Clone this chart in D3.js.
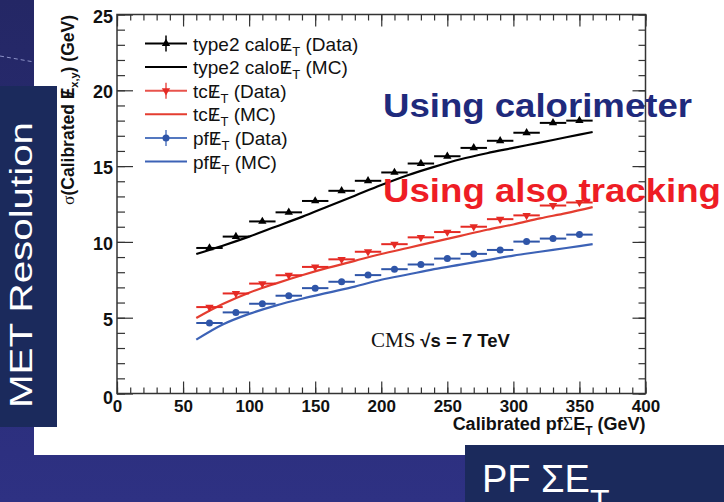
<!DOCTYPE html>
<html>
<head>
<meta charset="utf-8">
<script src="https://cdn.jsdelivr.net/npm/d3@7"></script>
<style>
  body { margin: 0; background: #282b6e; }
  svg { display: block; }
  text { font-family: "Liberation Sans", Arial, Helvetica, sans-serif; }
</style>
</head>
<body>
<div id="chart"></div>
<script>
/* -----------------------
data
------------------------- */

var binCenters = [70, 90, 110, 130, 150, 170, 190, 210, 230, 250, 270, 290, 310, 330, 350];
var binHalf = 10;

var caloData = [9.6, 10.35, 11.35, 11.95, 12.7, 13.37, 14.03, 14.58, 15.17, 15.65, 16.2, 16.67, 17.2, 17.85, 18.0];
var tcData   = [5.7, 6.6, 7.25, 7.8, 8.35, 8.85, 9.35, 9.85, 10.3, 10.65, 11.0, 11.5, 11.75, 12.4, 12.6];
var pfData   = [4.65, 5.35, 5.92, 6.45, 6.95, 7.37, 7.81, 8.2, 8.51, 8.9, 9.21, 9.47, 10.02, 10.22, 10.48];

var mcX    = [60, 80, 100, 120, 140, 160, 180, 200, 220, 240, 260, 280, 300, 320, 340, 360];
var caloMC = [9.2, 9.75, 10.35, 11.0, 11.65, 12.35, 13.05, 13.75, 14.4, 14.95, 15.45, 15.85, 16.2, 16.55, 16.9, 17.25];
var tcMC   = [4.98, 5.9, 6.65, 7.25, 7.8, 8.3, 8.75, 9.2, 9.6, 10.0, 10.4, 10.8, 11.15, 11.55, 11.9, 12.3];
var pfMC   = [3.55, 4.55, 5.25, 5.8, 6.25, 6.65, 7.05, 7.5, 7.85, 8.2, 8.5, 8.8, 9.1, 9.35, 9.6, 9.85];

var xTicks = [0, 50, 100, 150, 200, 250, 300, 350, 400];
var yTicks = [0, 5, 10, 15, 20, 25];

var legendPrefix = ['type2 calo', 'type2 calo', 'tc', 'tc', 'pf', 'pf'];
var legendSuffix = [' (Data)', ' (MC)', ' (Data)', ' (MC)', ' (Data)', ' (MC)'];

/* -----------------------
main variables
------------------------- */

var width = 724,
    height = 502;

var plotL = 117, plotR = 645.5, plotT = 14.5, plotB = 393.5;

var c_bg = '#282b6e',
    c_box = '#1b2a5c',
    c_frame = '#333',
    c_black = '#000',
    c_red = '#e52a24',
    c_redmc = '#e43d30',
    c_blue = '#2f55a8',
    c_bluemc = '#3c62b6',
    c_navytext = '#1f2a7c',
    c_redtext = '#ee1d25';

var svg = d3.select('#chart')
  .append('svg')
  .attr('width', width)
  .attr('height', height);

/* -----------------------
slide background
------------------------- */

var grad = svg.append('defs').append('linearGradient')
  .attr('id', 'bggrad').attr('x1', 0).attr('y1', 0).attr('x2', 0).attr('y2', 1);
grad.append('stop').attr('offset', '0%').attr('stop-color', '#242765');
grad.append('stop').attr('offset', '100%').attr('stop-color', '#2e3183');

svg.append('rect').attr('width', width).attr('height', height).attr('fill', 'url(#bggrad)');

svg.append('line')
  .attr('x1', 0).attr('y1', 56).attr('x2', 34).attr('y2', 62)
  .attr('stroke', '#8d92c8').attr('stroke-width', 1).attr('stroke-dasharray', '4,3');

svg.append('rect')
  .attr('x', 34).attr('y', 0).attr('width', width - 34).attr('height', 455)
  .attr('fill', '#fff');

/* -----------------------
scales and axes
------------------------- */

var x = d3.scaleLinear().domain([0, 400]).range([plotL, plotR]);
var y = d3.scaleLinear().domain([0, 25]).range([plotB, plotT]);

var plot = svg.append('g').attr('id', 'plot');

function tickStyle(g) {
  g.select('.domain').remove();
  g.selectAll('.tick line').attr('stroke', c_frame).attr('stroke-width', 1.2);
}

// bottom
plot.append('g').attr('transform', 'translate(0,' + plotB + ')')
  .call(d3.axisBottom(x).tickValues(d3.range(0, 401, 10)).tickSizeInner(-6).tickSizeOuter(0).tickFormat(''))
  .call(tickStyle);
plot.append('g').attr('transform', 'translate(0,' + plotB + ')')
  .call(d3.axisBottom(x).tickValues(xTicks).tickSizeInner(-12).tickSizeOuter(0).tickPadding(6.5))
  .call(tickStyle)
  .selectAll('text')
  .attr('font-size', 17).attr('font-weight', 'bold').attr('fill', '#111')
  .attr('font-family', '"Liberation Sans", Arial, sans-serif');

// top
plot.append('g').attr('transform', 'translate(0,' + plotT + ')')
  .call(d3.axisTop(x).tickValues(d3.range(0, 401, 10)).tickSizeInner(-6).tickSizeOuter(0).tickFormat(''))
  .call(tickStyle);
plot.append('g').attr('transform', 'translate(0,' + plotT + ')')
  .call(d3.axisTop(x).tickValues(xTicks).tickSizeInner(-12).tickSizeOuter(0).tickFormat(''))
  .call(tickStyle);

// left
plot.append('g').attr('transform', 'translate(' + plotL + ',0)')
  .call(d3.axisLeft(y).tickValues(d3.range(0, 26, 1)).tickSizeInner(-8).tickSizeOuter(0).tickFormat(''))
  .call(tickStyle);
plot.append('g').attr('transform', 'translate(' + plotL + ',0)')
  .call(d3.axisLeft(y).tickValues(yTicks).tickSizeInner(-16).tickSizeOuter(0).tickPadding(4))
  .call(tickStyle)
  .selectAll('text')
  .attr('font-size', 18).attr('font-weight', 'bold').attr('fill', '#111')
  .attr('dy', function (d) { return d === 0 ? '0.55em' : '0.42em'; })
  .attr('font-family', '"Liberation Sans", Arial, sans-serif');

// right
plot.append('g').attr('transform', 'translate(' + plotR + ',0)')
  .call(d3.axisRight(y).tickValues(d3.range(0, 26, 1)).tickSizeInner(-7).tickSizeOuter(0).tickFormat(''))
  .call(tickStyle);
plot.append('g').attr('transform', 'translate(' + plotR + ',0)')
  .call(d3.axisRight(y).tickValues(yTicks).tickSizeInner(-13).tickSizeOuter(0).tickFormat(''))
  .call(tickStyle);

// frame
plot.append('rect')
  .attr('x', plotL).attr('y', plotT)
  .attr('width', plotR - plotL).attr('height', plotB - plotT)
  .attr('fill', 'none').attr('stroke', c_frame).attr('stroke-width', 1.5);

// axis titles
var xt = plot.append('text')
  .attr('x', plotR).attr('y', 430)
  .attr('text-anchor', 'end')
  .attr('font-size', 18).attr('font-weight', 'bold').attr('fill', '#111');
xt.append('tspan').text('Calibrated pf');
xt.append('tspan').attr('font-family', '"Liberation Serif", serif').attr('font-weight', 'normal').text('\u03A3');
xt.append('tspan').text('E');
xt.append('tspan').attr('font-size', 12).attr('dy', 5).text('T');
xt.append('tspan').attr('dy', -5).text(' (GeV)');

var yt = plot.append('text')
  .attr('transform', 'translate(74,15) rotate(-90)')
  .attr('text-anchor', 'end')
  .attr('font-size', 17.5).attr('font-weight', 'bold').attr('fill', '#111');
yt.append('tspan').attr('font-family', '"Liberation Serif", serif').attr('font-weight', 'normal').text('\u03C3');
yt.append('tspan').text('(Calibrated E');
yt.append('tspan').attr('dx', -8).text('/');
yt.append('tspan').attr('dx', 3).attr('font-size', 11).attr('dy', 4).text('x,y');
yt.append('tspan').attr('dy', -4).text(') (GeV)');

/* -----------------------
curves and points
------------------------- */

var line = d3.line()
  .x(function (d) { return x(d[0]); })
  .y(function (d) { return y(d[1]); })
  .curve(d3.curveMonotoneX);

var mcSeries = [
  { values: caloMC, color: c_black },
  { values: tcMC, color: c_redmc },
  { values: pfMC, color: c_bluemc }
];

mcSeries.forEach(function (s) {
  plot.append('path')
    .datum(d3.zip(mcX, s.values))
    .attr('d', line)
    .attr('fill', 'none')
    .attr('stroke', s.color)
    .attr('stroke-width', 2.2);
});

var triUp = d3.symbol().type(d3.symbolTriangle).size(30);

var dataSeries = [
  { values: caloData, color: c_black, marker: 'up' },
  { values: tcData, color: c_red, marker: 'down' },
  { values: pfData, color: c_blue, marker: 'circle' }
];

function drawMarker(g, kind, color) {
  if (kind === 'circle') {
    g.append('circle').attr('r', 3.5).attr('fill', color);
  } else {
    g.append('path').attr('d', triUp())
      .attr('transform', kind === 'down' ? 'rotate(180)' : null)
      .attr('fill', color);
  }
}

dataSeries.forEach(function (s) {
  var pts = plot.append('g').selectAll('g')
    .data(d3.zip(binCenters, s.values))
    .enter().append('g')
    .attr('transform', function (d) { return 'translate(' + x(d[0]) + ',' + y(d[1]) + ')'; });

  pts.append('line')
    .attr('x1', function (d) { return x(d[0] - binHalf) - x(d[0]); })
    .attr('x2', function (d) { return x(d[0] + binHalf) - x(d[0]); })
    .attr('stroke', s.color).attr('stroke-width', 2);

  pts.each(function () { drawMarker(d3.select(this), s.marker, s.color); });
});

/* -----------------------
legend
------------------------- */

var legendColor = [c_black, c_black, '#e8534c', c_redmc, '#5478c0', c_bluemc];
var legendMarker = ['up', null, 'down', null, 'circle', null];
var legendY = d3.scaleLinear().domain([0, 5]).range([43.5, 161.5]);
var fsLeg = 19;

var legend = plot.append('g').attr('class', 'legend');

legendPrefix.forEach(function (p, i) {
  var row = legend.append('g').attr('transform', 'translate(0,' + legendY(i) + ')');
  row.append('line').attr('x1', 145).attr('x2', 187)
    .attr('stroke', legendColor[i]).attr('stroke-width', 2);
  if (legendMarker[i]) {
    row.append('line').attr('x1', 166).attr('x2', 166).attr('y1', -8).attr('y2', 8)
      .attr('stroke', legendColor[i]).attr('stroke-width', 1.5);
    var m = row.append('g').attr('transform', 'translate(166,0)');
    drawMarker(m, legendMarker[i], legendColor[i] === c_black ? c_black : (i === 2 ? c_red : c_blue));
  }
  var t = row.append('text')
    .attr('x', 193).attr('y', 7)
    .attr('font-size', fsLeg).attr('fill', '#111');
  t.append('tspan').text(p + 'E');
  t.append('tspan').attr('dx', -fsLeg * 0.4725).text('/');
  t.append('tspan').attr('dx', fsLeg * 0.1945).attr('dy', 5).attr('font-size', 13).text('T');
  t.append('tspan').attr('dy', -5).text(legendSuffix[i]);
});

// CMS label
var cms = plot.append('text').attr('x', 371).attr('y', 347).attr('fill', '#111');
cms.append('tspan').attr('font-family', '"Liberation Serif", serif').attr('font-size', 21).text('CMS');
cms.append('tspan').attr('dx', 5).attr('font-size', 18.5).attr('font-weight', 'bold').text('\u221As = 7 TeV');

/* -----------------------
slide overlays
------------------------- */

svg.append('rect').attr('x', 0).attr('y', 86).attr('width', 57).attr('height', 341).attr('fill', c_box);
svg.append('text')
  .attr('transform', 'translate(32,265) rotate(-90)')
  .attr('text-anchor', 'middle')
  .attr('font-size', 32)
  .attr('fill', '#fff')
  .attr('textLength', 286)
  .attr('lengthAdjust', 'spacingAndGlyphs')
  .text('MET Resolution');

svg.append('rect').attr('x', 465).attr('y', 445).attr('width', width - 465).attr('height', height - 445).attr('fill', c_box);
var pf = svg.append('text').attr('x', 482).attr('y', 492).attr('font-size', 38).attr('fill', '#fff');
pf.append('tspan').text('PF \u03A3E');
pf.append('tspan').attr('font-size', 32).attr('dy', 20).text('T');

svg.append('text')
  .attr('x', 383).attr('y', 117)
  .attr('font-size', 33).attr('font-weight', 'bold')
  .attr('fill', c_navytext)
  .attr('textLength', 309).attr('lengthAdjust', 'spacingAndGlyphs')
  .text('Using calorimeter');

svg.append('text')
  .attr('x', 383).attr('y', 202)
  .attr('font-size', 33).attr('font-weight', 'bold')
  .attr('fill', c_redtext)
  .attr('textLength', 338).attr('lengthAdjust', 'spacingAndGlyphs')
  .text('Using also tracking');
</script>
</body>
</html>
